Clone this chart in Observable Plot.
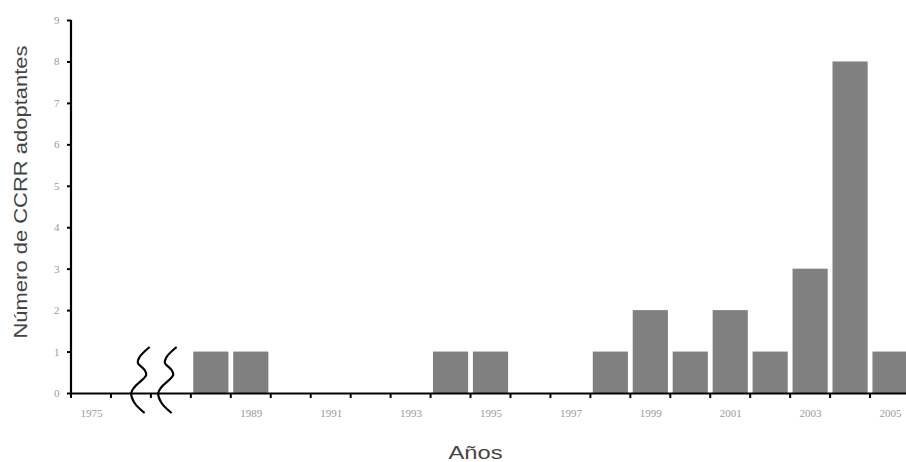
<!DOCTYPE html>
<html><head><meta charset="utf-8">
<script src="https://cdn.jsdelivr.net/npm/d3@7"></script>
<script src="https://cdn.jsdelivr.net/npm/@observablehq/plot@0.6"></script>
<style>body{margin:0;background:#fff}</style>
</head><body><div id="chart"></div>
<script>
const categories = ["1975","1976","1977","1988","1989","1990","1991","1992","1993","1994","1995","1996","1997","1998","1999","2000","2001","2002","2003","2004","2005"];
const adopters   = [0,0,0,1,1,0,0,0,0,1,1,0,0,1,2,1,2,1,3,8,1];
const xTickLabels = ["1975","1989","1991","1993","1995","1997","1999","2001","2003","2005"];
const yTicks = [0,1,2,3,4,5,6,7,8,9];
const yTitle = "Número de CCRR adoptantes";
const xTitle = "Años";

const data = categories.map((c, i) => ({year: c, value: adopters[i]})).filter(d => d.value > 0);

function decorations(index, scales, values, dims) {
  const x = scales.x, y = scales.y;
  const n = categories.length;
  const step = x.step ? x.step() : (dims.width - dims.marginLeft - dims.marginRight) / n;
  const bw = x.bandwidth ? x.bandwidth() : step * 0.88;
  const off = (step - bw) / 2;
  const y0 = y(0);
  const g = d3.create("svg:g");
  g.append("line").attr("x1", dims.marginLeft).attr("x2", dims.marginLeft)
    .attr("y1", y(9)).attr("y2", y0 + 1).attr("stroke", "#000").attr("stroke-width", 2.2);
  for (const c of categories) {
    const bx = x(c) - off;
    g.append("line").attr("x1", bx).attr("x2", bx).attr("y1", y0).attr("y2", y0 + 5)
      .attr("stroke", "#000").attr("stroke-width", 2);
  }
  const bx = x(categories[2]) - off;
  const shape = [[-3.3,-46],[-13.3,-36],[-15,-30],[-8.3,-23],[-6.7,-18],[-18.3,-6],[-21.7,0],[-18.3,10],[-8.3,20]];
  const line = d3.line().curve(d3.curveCatmullRom);
  for (const shift of [2, 29]) {
    g.append("path").attr("d", line(shape.map(([dx, dy]) => [bx + dx + shift, y0 + dy])))
      .attr("fill", "none").attr("stroke", "#000").attr("stroke-width", 2.2);
  }
  return g.node();
}

const chart = Plot.plot({
  width: 906,
  height: 462,
  marginLeft: 71,
  marginRight: -4,
  marginTop: 20,
  marginBottom: 69,
  x: {type: "band", domain: categories, paddingInner: 0.12, paddingOuter: 0.06, round: false},
  y: {domain: [0, 9]},
  marks: [
    Plot.barY(data, {x: "year", y: "value", fill: "#808080"}),
    Plot.axisY({ticks: yTicks, tickSize: 4, tickPadding: 8, stroke: "#000", strokeWidth: 2, fill: "#9a9a9a", fontFamily: "Liberation Serif", fontSize: 11, label: null}),
    Plot.axisX({ticks: xTickLabels, tickSize: 0, tickPadding: 16, fill: "#9a9a9a", fontFamily: "Liberation Serif", fontSize: 11, label: null}),
    Plot.ruleY([0], {stroke: "#000", strokeWidth: 2.2}),
    decorations,
    Plot.text([yTitle], {frameAnchor: "left", textAnchor: "middle", lineAnchor: "middle", dx: -50, dy: -15, rotate: -90, fontSize: 18, fill: "#444", fontFamily: "Liberation Sans"}),
    Plot.text([xTitle], {frameAnchor: "bottom", textAnchor: "middle", lineAnchor: "middle", dx: -15.5, dy: 60, fontSize: 18, fill: "#444", fontFamily: "Liberation Sans"})
  ]
});
d3.select(chart).selectAll("text").filter(function() { return this.textContent === yTitle; })
  .attr("textLength", 293).attr("lengthAdjust", "spacingAndGlyphs");
d3.select(chart).selectAll("text").filter(function() { return this.textContent === xTitle; })
  .attr("textLength", 54).attr("lengthAdjust", "spacingAndGlyphs");
document.getElementById("chart").appendChild(chart);
</script>
</body></html>
